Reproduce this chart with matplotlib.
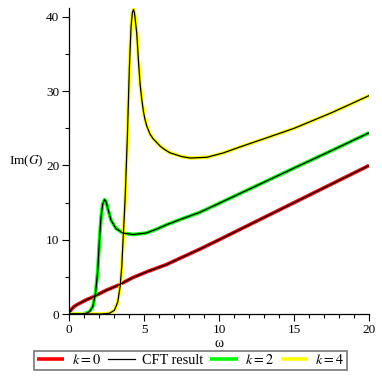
import matplotlib
matplotlib.use('Agg')
import matplotlib.pyplot as plt
from matplotlib.ticker import MultipleLocator

plt.rcParams['font.family'] = ['Liberation Serif', 'DejaVu Serif']
plt.rcParams['mathtext.fontset'] = 'stix'

# k = 0
w0 = [0, 0.13, 0.3, 0.47, 0.75, 1.13, 1.6, 2.47, 3.3, 4.24, 5.2, 6.47, 8.73, 10, 12, 15, 17.5, 20]
g0 = [0, 0.6, 0.95, 1.2, 1.5, 1.9, 2.3, 3.2, 3.9, 4.9, 5.7, 6.65, 8.75, 10.0, 12.0, 15.0, 17.5, 20.0]

# k = 2
w2 = [0, 0.8, 1.13, 1.36, 1.58, 1.76, 1.91, 2.02, 2.13, 2.24, 2.36, 2.47, 2.58, 2.8, 3.13,
      3.58, 4.24, 5.13, 5.8, 6.47, 7.5, 8.73, 10, 12, 15, 17.5, 20]
g2 = [0, 0.02, 0.1, 0.3, 1.0, 2.8, 5.9, 9.96, 13.1, 14.8, 15.4, 15.1, 14.2, 12.6, 11.5,
      10.9, 10.7, 10.9, 11.4, 12.0, 12.8, 13.7, 14.9, 16.8, 19.65, 22.0, 24.4]

# k = 4
w4 = [0, 2.2, 2.69, 3.02, 3.24, 3.4, 3.51, 3.62, 3.73, 3.89, 4.02, 4.13, 4.22, 4.29, 4.36,
      4.51, 4.62, 4.73, 4.85, 4.96, 5.07, 5.18, 5.4, 5.6, 5.84, 6.07, 6.4, 6.73, 7.5, 8.07,
      9.18, 10.3, 11.4, 13, 15, 17.5, 20]
g4 = [0, 0.0, 0.1, 0.5, 1.6, 3.7, 6.4, 10.9, 15.3, 24.3, 33.3, 38.7, 40.6, 41.0, 40.5,
      37.8, 34.2, 31.0, 28.8, 27.2, 26.1, 25.3, 24.2, 23.6, 23.1, 22.6, 22.1, 21.7, 21.2, 21.0,
      21.1, 21.7, 22.5, 23.6, 25.0, 27.1, 29.4]

fig = plt.figure(figsize=(3.82, 3.82), dpi=100)
ax = fig.add_axes([0.181, 0.178, 0.785, 0.801])

ax.plot(w0, g0, color='#ff0000', lw=2.6, label='$k = 0$', solid_capstyle='butt')
ax.plot(w2, g2, color='#00ff00', lw=2.6, label='$k = 2$', solid_capstyle='butt')
ax.plot(w4, g4, color='#ffff00', lw=2.6, label='$k = 4$', solid_capstyle='butt')
# CFT result overlays
cft, = ax.plot(w0, g0, color='black', lw=0.9, label='CFT result')
ax.plot(w2, g2, color='black', lw=0.9)
ax.plot(w4, g4, color='black', lw=0.9)

ax.set_xlim(0, 20)
ax.set_ylim(0, 41.2)
for s in ['top', 'right']:
    ax.spines[s].set_visible(False)
ax.spines['left'].set_linewidth(0.9)
ax.spines['bottom'].set_linewidth(0.9)
ax.xaxis.set_major_locator(MultipleLocator(5))
ax.xaxis.set_minor_locator(MultipleLocator(1))
ax.yaxis.set_major_locator(MultipleLocator(10))
ax.yaxis.set_minor_locator(MultipleLocator(5))
ax.tick_params(which='major', length=5, width=0.8, labelsize=9.5, pad=2)
ax.tick_params(which='minor', length=3, width=0.8)

ax.set_xlabel('ω', fontsize=10, labelpad=1)
ax.set_ylabel('Im($G$)', fontsize=9.5, rotation=0, labelpad=14, va='center')

h = ax.get_legend_handles_labels()[0]
order = [h[0], cft, h[1], h[2]]
leg = fig.legend(order, ['$k = 0$', 'CFT result', '$k = 2$', '$k = 4$'],
                 loc='center', bbox_to_anchor=(0.499, 0.0565), ncol=4,
                 fontsize=10.3, frameon=True, fancybox=False, handlelength=1.9,
                 handletextpad=0.5, columnspacing=0.5, borderpad=0.2,
                 borderaxespad=0)
leg.get_frame().set_edgecolor('#555555')
leg.get_frame().set_linewidth(1.2)

fig.savefig('out.png', dpi=100, facecolor='white')
